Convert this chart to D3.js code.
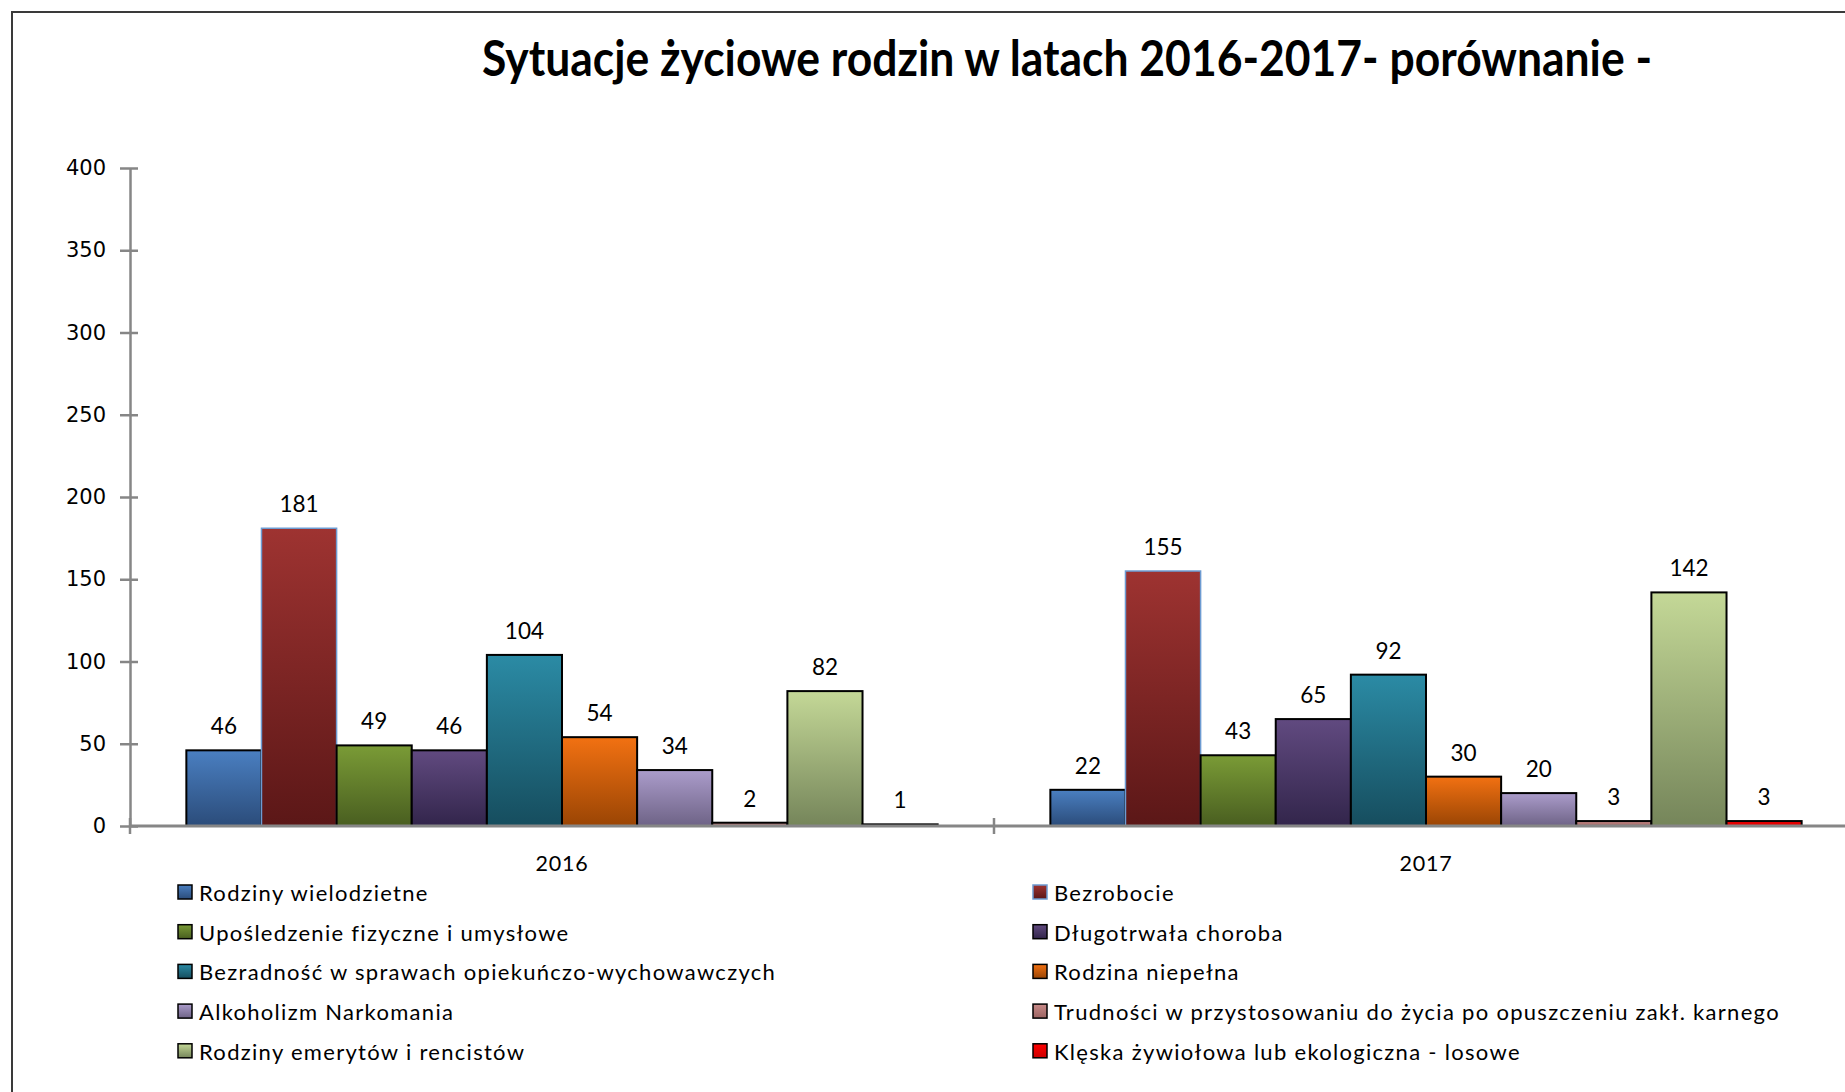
<!DOCTYPE html>
<html>
<head>
<meta charset="utf-8">
<script src="https://cdn.jsdelivr.net/npm/d3@7"></script>
<style>
  html, body { margin: 0; padding: 0; background: #fff; }
  svg { display: block; }
</style>
</head>
<body>
<svg id="chart" width="1845" height="1092"></svg>
<script>
// ---- DATA ----
const categories = ["2016", "2017"];
const seriesNames = [
  "Rodziny wielodzietne",
  "Bezrobocie",
  "Upośledzenie fizyczne i umysłowe",
  "Długotrwała choroba",
  "Bezradność w sprawach opiekuńczo-wychowawczych",
  "Rodzina niepełna",
  "Alkoholizm Narkomania",
  "Trudności w  przystosowaniu do życia po opuszczeniu zakł. karnego",
  "Rodziny emerytów i rencistów",
  "Klęska żywiołowa lub ekologiczna - losowe"
];
const values2016 = [46, 181, 49, 46, 104, 54, 34, 2, 82, 1];
const values2017 = [22, 155, 43, 65, 92, 30, 20, 3, 142, 3];
const yTicks = [0, 50, 100, 150, 200, 250, 300, 350, 400];
const titleText = "Sytuacje życiowe rodzin w latach 2016-2017-  porównanie -";

// ---- STYLE ----
const gradTop = ["#4a7fc1", "#9e3331", "#7a9b36", "#614a80", "#2b8ba5", "#f27112", "#ab9ccb", "#c88a88", "#c4d897", "#ff0000"];
const gradBot = ["#2b4c7a", "#5b1717", "#495e20", "#32254b", "#164d5e", "#9a4504", "#6e6386", "#9c6462", "#75855a", "#cc0000"];
const strokeCols = ["#000", "#6d9bd1", "#000", "#000", "#000", "#000", "#000", "#000", "#000", "#000"];

const svg = d3.select("#chart");
const W = 1845, H = 1092;
const values = [values2016, values2017];

// frame
svg.append("rect").attr("x", 12).attr("y", 12).attr("width", W + 20).attr("height", H + 20)
  .attr("fill", "#fff").attr("stroke", "#3a3a3a").attr("stroke-width", 2);

// gradients
const defs = svg.append("defs");
seriesNames.forEach((s, i) => {
  const g = defs.append("linearGradient").attr("id", "g" + i)
    .attr("x1", 0).attr("y1", 0).attr("x2", 0).attr("y2", 1);
  g.append("stop").attr("offset", "0%").attr("stop-color", gradTop[i]);
  g.append("stop").attr("offset", "100%").attr("stop-color", gradBot[i]);
});

// title
const title = svg.append("text").attr("x", 1067).attr("y", 76)
  .attr("text-anchor", "middle")
  .style("font-family", "Lato, 'Open Sans', sans-serif")
  .style("font-weight", 700).style("font-size", "50px").text(titleText);
title.attr("textLength", 1170).attr("lengthAdjust", "spacingAndGlyphs");

// scales
const x0 = d3.scaleBand().domain(categories).range([130, 1858]).paddingInner(0).paddingOuter(0);
const x1 = d3.scaleBand().domain(d3.range(seriesNames.length)).range([0, x0.bandwidth()])
  .paddingInner(0).paddingOuter(0.75);
const y = d3.scaleLinear().domain([0, 400]).range([826, 168]);

// y axis
const yAxis = d3.axisLeft(y).tickValues(yTicks).tickSize(0).tickPadding(24);
const yg = svg.append("g").attr("transform", "translate(130,0)").call(yAxis);
yg.select(".domain").attr("stroke", "#868686").attr("stroke-width", 2.5);
yg.selectAll(".tick text").style("font-family", "'DejaVu Sans', Verdana, sans-serif")
  .style("font-size", "21px").attr("fill", "#000");
yg.selectAll(".tick").append("line").attr("x1", -10).attr("x2", 8)
  .attr("stroke", "#868686").attr("stroke-width", 2.5);

// bars
const groups = svg.append("g").selectAll("g").data(categories).join("g")
  .attr("transform", d => `translate(${x0(d)},0)`);
groups.each(function(cat, ci) {
  const g = d3.select(this);
  const vals = values[ci];
  g.selectAll("rect").data(vals).join("rect")
    .attr("x", (d, i) => x1(i))
    .attr("y", d => y(d))
    .attr("width", x1.bandwidth())
    .attr("height", d => y(0) - y(d))
    .attr("fill", (d, i) => `url(#g${i})`)
    .attr("stroke", (d, i) => strokeCols[i])
    .attr("stroke-width", (d, i) => i === 1 ? 1.5 : 2);
  g.selectAll("text").data(vals).join("text")
    .attr("x", (d, i) => x1(i) + x1.bandwidth() / 2)
    .attr("y", d => y(d) - 16)
    .attr("text-anchor", "middle")
    .style("font-family", "Lato, 'Open Sans', sans-serif")
    .style("font-size", "22.5px").attr("fill", "#000")
    .text(d => d);
});

// x axis
const xg = svg.append("g");
xg.append("line").attr("x1", 130).attr("x2", W).attr("y1", 826).attr("y2", 826)
  .attr("stroke", "#868686").attr("stroke-width", 3);
[130, x0("2017")].forEach(px => {
  xg.append("line").attr("x1", px).attr("x2", px).attr("y1", 818).attr("y2", 834)
    .attr("stroke", "#868686").attr("stroke-width", 2.5);
});
xg.selectAll("text.cat").data(categories).join("text").attr("class", "cat")
  .attr("x", d => x0(d) + x0.bandwidth() / 2).attr("y", 871)
  .attr("text-anchor", "middle")
  .style("font-family", "Lato, 'Open Sans', sans-serif").style("font-size", "21.5px")
  .style("letter-spacing", "0.8px")
  .text(d => d);

// legend
const legCols = [178, 1033];
const leg = svg.append("g").selectAll("g").data(seriesNames).join("g")
  .attr("transform", (d, i) => `translate(${legCols[i % 2]},${893 + Math.floor(i / 2) * 39.7})`);
leg.append("rect").attr("x", 0).attr("y", -8).attr("width", 14).attr("height", 14)
  .attr("fill", (d, i) => `url(#g${i})`)
  .attr("stroke", (d, i) => strokeCols[i]).attr("stroke-width", 1.5);
leg.append("text").attr("x", 21).attr("y", 8)
  .style("font-family", "Lato, 'Open Sans', sans-serif").style("font-size", "22px")
  .style("letter-spacing", "1.3px")
  .attr("fill", "#000").text(d => d);
</script>
</body>
</html>
